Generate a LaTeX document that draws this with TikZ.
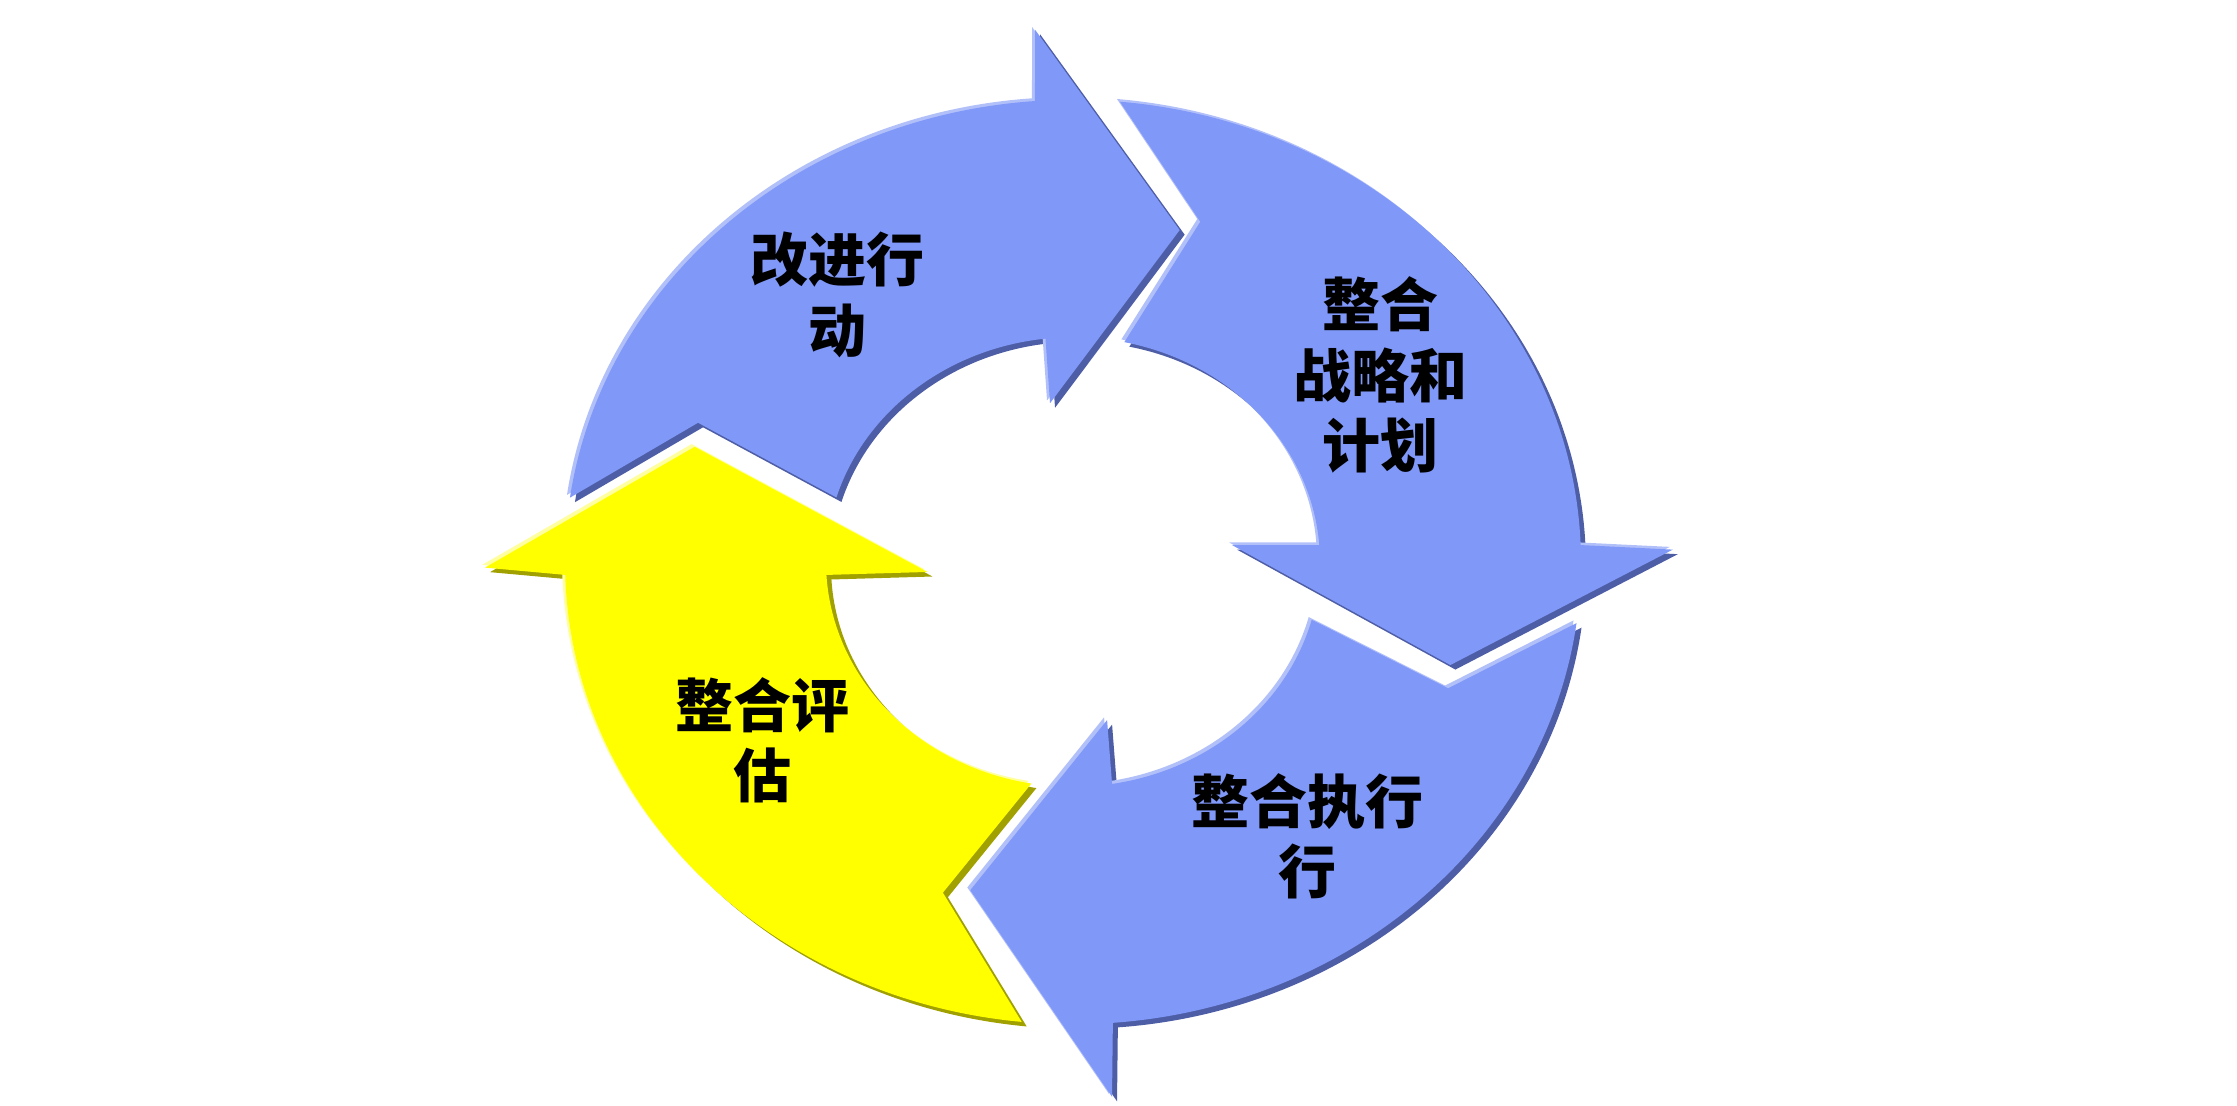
\documentclass[tikz,border=0pt]{standalone}
\usepackage{fontspec}
\newfontfamily\cjk{Noto Sans CJK SC}

\definecolor{bluemain}{RGB}{128,152,248}
\definecolor{bluelight}{RGB}{178,192,250}
\definecolor{bluedark}{RGB}{78,94,166}
\definecolor{yelmain}{RGB}{255,255,0}
\definecolor{yellight}{RGB}{255,255,160}
\definecolor{yeldark}{RGB}{160,160,0}

\begin{document}
\begin{tikzpicture}
	\tikzstyle{every node}=[font=\cjk\bfseries\fontsize{16.5}{20}\selectfont, align=center, inner sep=0pt]
	\useasboundingbox (0,0) rectangle (22.37,11.05);

	\begin{scope}[shift={(10.73,5.43)}, yscale=0.91]
	% act
	\foreach \c/\dx/\dy in {bluedark/0.05/-0.05, bluelight/-0.03/0.03, bluemain/0/0}
		\fill[\c, shift={(\dx,\dy)}] (172:5.08) arc[start angle=172, end angle=94.3, radius=5.08]
			-- (93.7:5.86) -- (73.7:3.80) -- (97.5:1.76) -- (96.4:2.47)
			arc[start angle=96.4, end angle=163.3, radius=2.47] -- (157.8:4.05) -- cycle;
	% plan
	\foreach \c/\dx/\dy in {bluedark/0.05/-0.05, bluelight/-0.03/0.03, bluemain/0/0}
		\fill[\c, shift={(\dx,\dy)}] (84.7:5.08) arc[start angle=84.7, end angle=2.1, radius=5.08]
			-- (1.3:6.00) -- (-16.7:3.94) -- (6.7:1.60) -- (4.3:2.47)
			arc[start angle=4.3, end angle=78.0, radius=2.47] -- (71.2:3.95) -- cycle;
	% exec
	\foreach \c/\dx/\dy in {bluedark/0.05/-0.05, bluelight/-0.03/0.03, bluemain/0/0}
		\fill[\c, shift={(\dx,\dy)}] (-7.6:5.08) arc[start angle=-7.6, end angle=-85.5, radius=5.08]
			-- (-86.2:5.89) -- (-105.9:3.75) -- (-78.9:1.77) -- (-80.9:2.47)
			arc[start angle=-80.9, end angle=-14.9, radius=2.47] -- (-20.3:4.00) -- cycle;
	% eval
	\foreach \c/\dx/\dy in {yeldark/0.05/-0.05, yellight/-0.03/0.03, yelmain/0/0}
		\fill[\c, shift={(\dx,\dy)}] (264.2:5.08) arc[start angle=264.2, end angle=181.6, radius=5.08]
			-- (180.6:5.88) -- (161.5:3.99) -- (184.3:1.46) -- (183.3:2.47)
			arc[start angle=183.3, end angle=260.3, radius=2.47] -- (250.3:3.86) -- cycle;
	\end{scope}

	\node (act) at (8.37,8.10) {改进行\\动};
	\node (plan) at (13.80,7.30) {整合\\战略和\\计划};
	\node (exec) at (13.07,2.69) {整合执行\\行};
	\node (eval) at (7.62,3.65) {整合评\\估};
\end{tikzpicture}
\end{document}
